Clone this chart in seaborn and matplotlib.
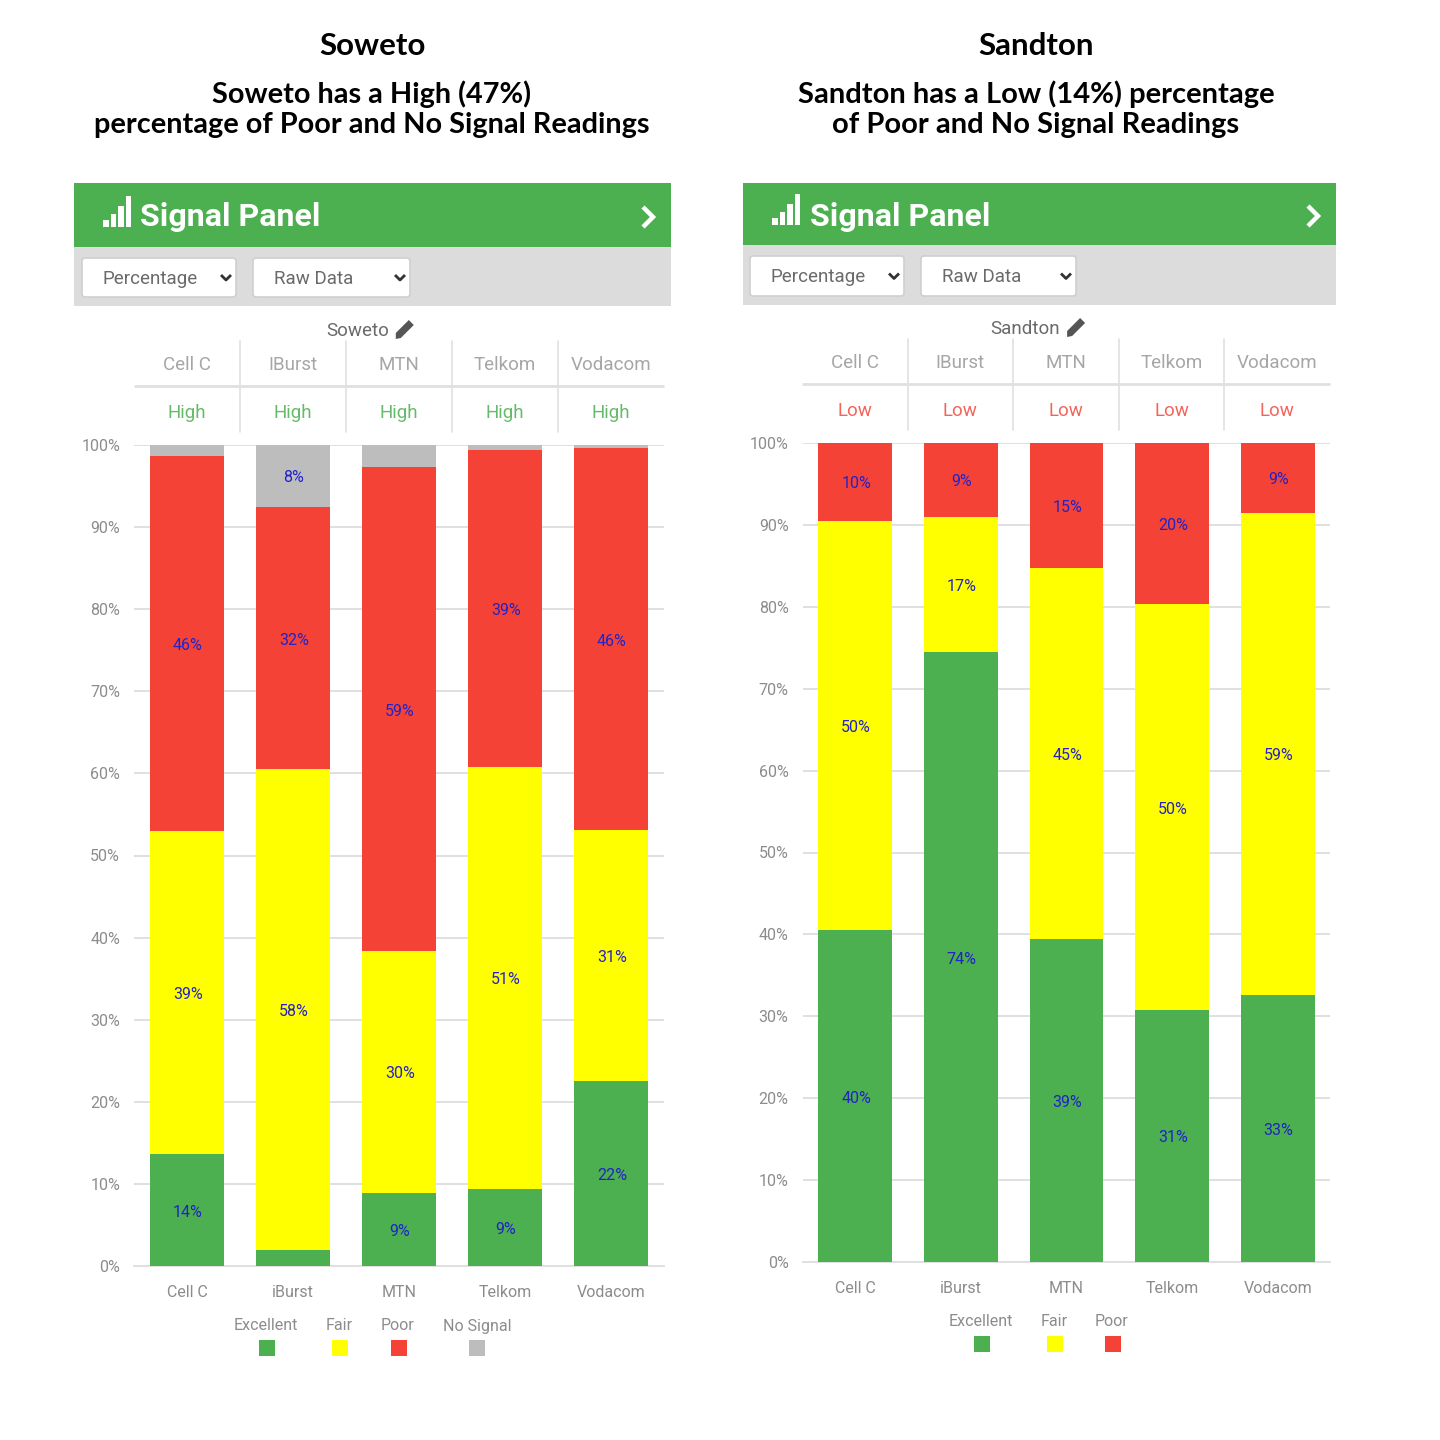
import matplotlib
matplotlib.use("Agg")
import matplotlib.pyplot as plt
from matplotlib.patches import Rectangle, FancyBboxPatch, Polygon
import seaborn as sns
import numpy as np

# ---------- data ----------
carriers = ["Cell C", "iBurst", "MTN", "Telkom", "Vodacom"]
table_heads = ["Cell C", "IBurst", "MTN", "Telkom", "Vodacom"]
y_ticks = [0, 10, 20, 30, 40, 50, 60, 70, 80, 90, 100]

soweto_excellent = [13.6, 1.95, 8.9, 9.4, 22.5]
soweto_fair = [39.4, 58.6, 29.5, 51.4, 30.6]
soweto_poor = [45.6, 31.9, 58.9, 38.6, 46.5]
soweto_nosignal = [1.4, 7.6, 2.7, 0.6, 0.4]
soweto_lab_excellent = ["14%", None, "9%", "9%", "22%"]
soweto_lab_fair = ["39%", "58%", "30%", "51%", "31%"]
soweto_lab_poor = ["46%", "32%", "59%", "39%", "46%"]
soweto_lab_nosignal = [None, "8%", None, None, None]

sandton_excellent = [40.5, 74.5, 39.4, 30.8, 32.6]
sandton_fair = [50.0, 16.5, 45.3, 49.5, 58.9]
sandton_poor = [9.5, 9.0, 15.3, 19.7, 8.5]
sandton_lab_excellent = ["40%", "74%", "39%", "31%", "33%"]
sandton_lab_fair = ["50%", "17%", "45%", "50%", "59%"]
sandton_lab_poor = ["10%", "9%", "15%", "20%", "9%"]

GREEN, YELLOW, RED, GREY = "#4caf50", "#ffff00", "#f44336", "#bdbdbd"
TXT = "#8c8c8c"
LINE = "#e0e0e0"
UI = ["Roboto", "DejaVu Sans"]

sns.set_theme(style="white")
plt.rcParams["font.family"] = UI

fig = plt.figure(figsize=(14.4, 14.4), dpi=100, facecolor="white")
deco = fig.add_axes([0, 0, 1, 1], zorder=5)
deco.set_xlim(0, 1440)
deco.set_ylim(1440, 0)
deco.axis("off")
deco.patch.set_alpha(0)


def stacked(x0, x1, ytop, ybot, series, labels, colors):
    ax = fig.add_axes([x0 / 1440, 1 - ybot / 1440, (x1 - x0) / 1440, (ybot - ytop) / 1440])
    bottom = np.zeros(len(carriers))
    for vals, labs, col in zip(series, labels, colors):
        vals = np.array(vals)
        sns.barplot(x=carriers, y=vals, bottom=bottom, order=carriers, color=col,
                    saturation=1, width=0.70, ax=ax, zorder=3, linewidth=0)
        for i, lab in enumerate(labs):
            if lab:
                ax.annotate(lab, (i + 0.008, bottom[i] + vals[i] / 2), xytext=(0, -1.5),
                            textcoords="offset points", ha="center", va="center",
                            fontsize=11.5, color="#2222c8", zorder=4)
        bottom = bottom + vals
    ax.set_xlim(-0.5, 4.5)
    ax.set_ylim(0, 100)
    ax.set_yticks(y_ticks)
    ax.set_yticklabels([f"{t}%" for t in y_ticks])
    ax.yaxis.grid(True, color=LINE, linewidth=1.4, zorder=0)
    ax.xaxis.grid(False)
    ax.set_axisbelow(True)
    ax.set_xlabel("")
    ax.set_ylabel("")
    for s in ("top", "left", "right"):
        ax.spines[s].set_visible(False)
    ax.spines["bottom"].set_color(LINE)
    ax.spines["bottom"].set_linewidth(1.4)
    ax.tick_params(axis="y", length=0, pad=10, labelsize=11.5, labelcolor=TXT)
    ax.tick_params(axis="x", length=0, pad=13.5, labelsize=11.5, labelcolor=TXT)
    return ax


def panel(px0, px1, hdr_top, hdr_bot, grey_bot, sel_top, sel_bot, sel1, sel2,
          tx0, tx1, name, name_x, head_y, rating_y, rule_y, rating, rating_col,
          title_x, title_lines, title_size, head_title):
    deco.text(head_title[0], head_title[1], head_title[2], ha="center", va="center",
              fontsize=22.5, fontweight="bold", family="Lato", color="black")
    for k, line in enumerate(title_lines):
        deco.text(title_x, 94.5 + 31 * k, line, ha="center", va="center", fontsize=title_size,
                  fontweight="bold", family="Lato", color="black")
    deco.add_patch(Rectangle((px0, hdr_top), px1 - px0, hdr_bot - hdr_top, color=GREEN, lw=0))
    deco.add_patch(Rectangle((px0, hdr_bot), px1 - px0, grey_bot - hdr_bot, color="#dcdcdc", lw=0))
    # signal icon
    ic = px0 + 29
    for j, h in enumerate([7, 13, 21, 31]):
        deco.add_patch(Rectangle((ic + j * 7.6, hdr_bot - 20 - h), 5.6, h, color="white", lw=0))
    deco.text(px0 + 66.5, (hdr_top + hdr_bot) / 2 + 2.5, "Signal Panel", ha="left", va="center",
              fontsize=23, fontweight="bold", color="white")
    # arrow
    cy = (hdr_top + hdr_bot) / 2 + 2
    cx = px1 - 24
    deco.plot([cx - 4, cx + 6, cx - 4], [cy - 10, cy, cy + 10], color="white", lw=3.2,
              solid_capstyle="butt", solid_joinstyle="miter")
    # selects
    for (a, b), txt in zip((sel1, sel2), ("Percentage", "Raw Data")):
        deco.add_patch(FancyBboxPatch((a + 1, sel_top + 1), b - a - 2, sel_bot - sel_top - 2,
                                      boxstyle="round,pad=0,rounding_size=3",
                                      fc="white", ec="#cfcfcf", lw=1.2,
                                      mutation_aspect=1))
        deco.text(a + 22, (sel_top + sel_bot) / 2 + 1, txt, ha="left", va="center",
                  fontsize=13.5, color="#6a6a6a")
        my = (sel_top + sel_bot) / 2
        mx = b - 11
        deco.plot([mx - 5, mx, mx + 5], [my - 2.5, my + 2.5, my - 2.5], color="#333333",
                  lw=2, solid_capstyle="butt")
    # location + pencil
    deco.text(name_x, rule_y - 55, name, ha="center", va="center", fontsize=13.5, color="#6a6a6a")
    pe = name_x + len(name) * 4.3 + 12
    py = rule_y - 56
    deco.add_patch(Polygon([(pe, py + 9), (pe + 5, py + 8), (pe + 18, py - 5), (pe + 13, py - 10),
                            (pe, py + 3)], color="#555555", lw=0))
    # table
    band = (tx1 - tx0) / 5
    deco.plot([tx0, tx1], [rule_y, rule_y], color=LINE, lw=2, solid_capstyle="butt")
    for j in range(1, 5):
        xv = tx0 + band * j
        deco.plot([xv, xv], [rule_y - 45, rule_y - 1], color=LINE, lw=1.2)
        deco.plot([xv, xv], [rule_y + 2, rule_y + 46], color=LINE, lw=1.2)
    for j, h in enumerate(table_heads):
        xc = tx0 + band * (j + 0.5)
        deco.text(xc, head_y, h, ha="center", va="center", fontsize=13.5, color="#a6a6a6")
        deco.text(xc, rating_y, rating, ha="center", va="center", fontsize=13.5, color=rating_col)


def legend(names, cols, text_x, sw_x, text_y, sw_y):
    for n, c, tx, sx in zip(names, cols, text_x, sw_x):
        deco.text(tx, text_y, n, ha="center", va="center", fontsize=11.5, color=TXT)
        deco.add_patch(Rectangle((sx - 8, sw_y - 8), 16, 16, color=c, lw=0))


# ---------- Soweto ----------
stacked(134, 664, 445, 1266,
        [soweto_excellent, soweto_fair, soweto_poor, soweto_nosignal],
        [soweto_lab_excellent, soweto_lab_fair, soweto_lab_poor, soweto_lab_nosignal],
        [GREEN, YELLOW, RED, GREY])
panel(74, 671, 183, 247, 306, 257, 298, (81, 237), (252, 411), 134, 664, "Soweto", 358,
      365, 413, 386, "High", "#66bb6a", 372,
      ["Soweto has a High (47%)", "percentage of Poor and No Signal Readings"], 20.8,
      (372, 46, "Soweto"))
legend(["Excellent", "Fair", "Poor", "No Signal"], [GREEN, YELLOW, RED, GREY],
       [266, 339, 397, 477], [267, 340, 399, 477], 1326, 1348)

# ---------- Sandton ----------
stacked(802.5, 1330.5, 443, 1262,
        [sandton_excellent, sandton_fair, sandton_poor],
        [sandton_lab_excellent, sandton_lab_fair, sandton_lab_poor],
        [GREEN, YELLOW, RED])
panel(743, 1336, 183, 245, 305, 255, 297, (749, 905), (920, 1077), 802, 1330, "Sandton", 1025,
      363, 411, 384, "Low", "#f4645a", 1036,
      ["Sandton has a Low (14%) percentage", "of Poor and No Signal Readings"], 21.0,
      (1036, 46, "Sandton"))
legend(["Excellent", "Fair", "Poor"], [GREEN, YELLOW, RED],
       [981, 1054, 1112], [982, 1055, 1113], 1322, 1344)

fig.savefig("out.png", dpi=100)
